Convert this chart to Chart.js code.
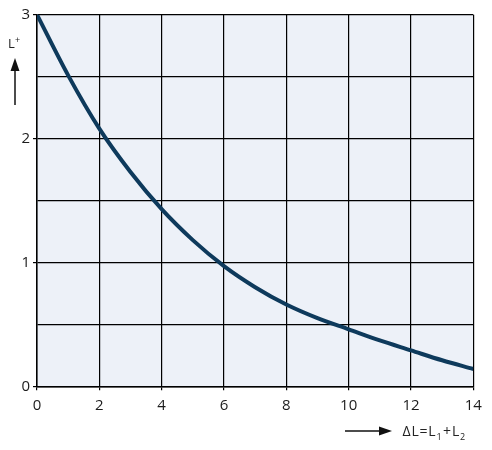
<!DOCTYPE html>
<html>
<head>
<meta charset="utf-8">
<script src="https://cdn.jsdelivr.net/npm/chart.js@4.4.1/dist/chart.umd.min.js"></script>
<style>
  html, body { margin: 0; padding: 0; background: #ffffff; }
  #wrap { width: 492px; height: 450px; position: relative; }
</style>
</head>
<body>
<div id="wrap"><canvas id="c" width="492" height="450"></canvas></div>
<script>
// ---- data ----
const deltaL = [0, 1, 2, 3, 4, 5, 6, 7, 8, 9, 10, 11, 12, 13, 14];
const lPlus  = [3.00, 2.51, 2.08, 1.73, 1.43, 1.18, 0.97, 0.80, 0.66, 0.55, 0.46, 0.37, 0.29, 0.21, 0.14];
const xTicks = [0, 2, 4, 6, 8, 10, 12, 14];
const yTicks = [0, 1, 2, 3];
const yAxisLabel = 'L';
const yAxisSup = '+';
// x axis title pieces: [text, isSubscript]
const xAxisLabel = [['Δ', false], ['L', false], ['=', false], ['L', false], ['1', true], ['+', false], ['L', false], ['2', true]];

const FONT = '"Open Sans", "Noto Sans", sans-serif';
const points = deltaL.map((x, i) => ({ x: x, y: lPlus[i] }));

const bgPlugin = {
  id: 'bg',
  beforeDraw(chart) {
    const { ctx, chartArea: a } = chart;
    ctx.save();
    ctx.fillStyle = '#edf1f8';
    ctx.fillRect(a.left, a.top, a.right - a.left, a.bottom - a.top);
    ctx.restore();
  }
};

const labelPlugin = {
  id: 'labels',
  afterDraw(chart) {
    const { ctx } = chart;
    ctx.save();
    ctx.fillStyle = '#222';
    ctx.strokeStyle = '#111';
    // y axis label
    ctx.font = '13px ' + FONT;
    ctx.textBaseline = 'alphabetic';
    ctx.textAlign = 'left';
    ctx.fillText(yAxisLabel, 8, 48);
    ctx.font = '9px ' + FONT;
    ctx.fillText(yAxisSup, 15, 43);
    // up arrow
    ctx.lineWidth = 1.5;
    ctx.beginPath();
    ctx.moveTo(15, 105);
    ctx.lineTo(15, 68);
    ctx.stroke();
    ctx.fillStyle = '#111';
    ctx.beginPath();
    ctx.moveTo(15, 58);
    ctx.lineTo(10.5, 71);
    ctx.lineTo(19.5, 71);
    ctx.closePath();
    ctx.fill();
    // right arrow
    ctx.beginPath();
    ctx.moveTo(345, 431);
    ctx.lineTo(380, 431);
    ctx.stroke();
    ctx.beginPath();
    ctx.moveTo(392, 431);
    ctx.lineTo(379, 426.5);
    ctx.lineTo(379, 435.5);
    ctx.closePath();
    ctx.fill();
    // x axis label, tightly set
    ctx.fillStyle = '#222';
    const base = 436;
    let x = 402.5;
    xAxisLabel.forEach(([t, sub]) => {
      ctx.font = (sub ? '9px ' : '14px ') + FONT;
      ctx.fillText(t, x, sub ? base + 4 : base);
      x += ctx.measureText(t).width + (sub ? 1.5 : 0.8);
    });
    ctx.restore();
  }
};

new Chart(document.getElementById('c'), {
  type: 'line',
  data: {
    datasets: [{
      data: points,
      borderColor: '#0e3a5c',
      borderWidth: 4,
      pointRadius: 0,
      fill: false,
      cubicInterpolationMode: 'monotone'
    }]
  },
  options: {
    responsive: false,
    animation: false,
    layout: { padding: { top: 14.7, right: 18.7, bottom: 0, left: 0 } },
    plugins: { legend: { display: false }, tooltip: { enabled: false } },
    scales: {
      x: {
        type: 'linear',
        min: 0, max: 14,
        afterFit(s) { s.height = 450 - 386.3; },
        afterBuildTicks(s) { s.ticks = xTicks.map(v => ({ value: v })); },
        border: { color: '#000', width: 1.5 },
        grid: { color: '#000', lineWidth: 1.2, tickLength: 4, tickColor: '#000' },
        ticks: { color: '#1c1c1c', font: { family: FONT, size: 15 }, padding: 6, maxRotation: 0 }
      },
      y: {
        min: 0, max: 3,
        afterFit(s) { s.width = 37; },
        afterBuildTicks(s) {
          const t = [];
          for (let v = 0; v <= 3.0001; v += 0.5) t.push({ value: Math.round(v * 2) / 2 });
          s.ticks = t;
        },
        border: { color: '#000', width: 1.5 },
        grid: {
          color: '#000', lineWidth: 1.2, tickLength: 4,
          tickColor: (c) => (c.tick && yTicks.includes(c.tick.value)) ? '#000' : 'rgba(0,0,0,0)'
        },
        ticks: {
          color: '#1c1c1c', font: { family: FONT, size: 15 }, padding: 3,
          callback: (v) => yTicks.includes(v) ? String(v) : ''
        }
      }
    }
  },
  plugins: [bgPlugin, labelPlugin]
});
</script>
</body>
</html>
